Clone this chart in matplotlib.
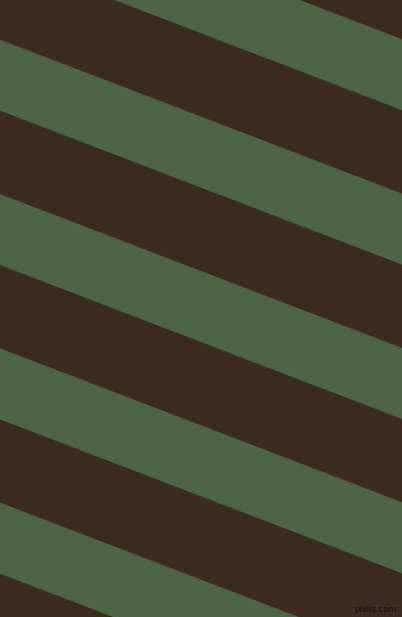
import matplotlib
matplotlib.use("Agg")
import matplotlib.pyplot as plt
import numpy as np

# Stripe data (pixel space of a 402x617 canvas)
slope = 0.383                      # vertical drop per horizontal pixel
green_tops = [-114.3, 40.0, 194.3, 348.5, 502.7]  # intercept at x=0 of each green band top
green_width = 71.0                 # vertical thickness of each green band
dark_color = "#3c2a1e"
green_color = "#4b6545"
watermark = "pixlis.com"

W, H = 402, 617
fig = plt.figure(figsize=((W + 0.4) / 100, (H + 0.4) / 100), dpi=100)
ax = fig.add_axes([0, 0, 1, 1])
ax.set_facecolor(dark_color)
fig.patch.set_facecolor(dark_color)
ax.set_xlim(0, W)
ax.set_ylim(H, 0)
ax.axis("off")

x = np.array([0, W], dtype=float)
for c in green_tops:
    ax.fill_between(x, c + slope * x, c + green_width + slope * x,
                    color=green_color, linewidth=0, antialiased=True)

ax.text(396, 609, watermark, ha="right", va="center", fontsize=6,
        color="#0d0d0d", family="DejaVu Sans")

fig.savefig("out.png", dpi=100, facecolor=dark_color)
